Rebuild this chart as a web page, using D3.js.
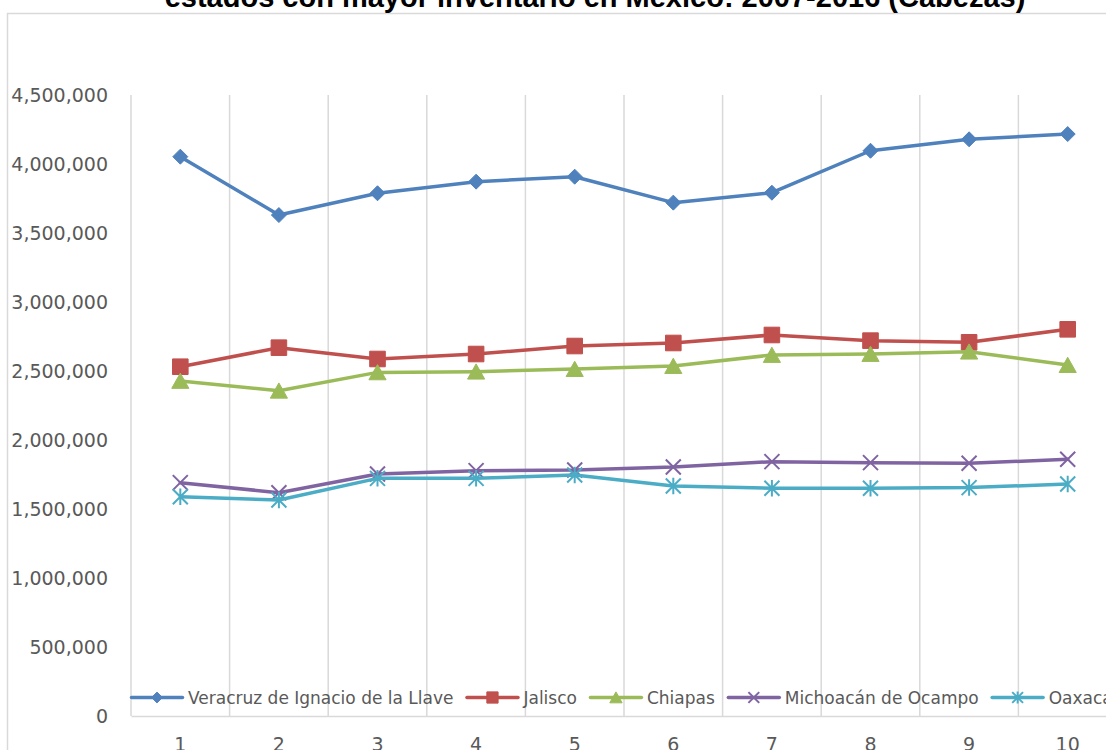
<!DOCTYPE html>
<html>
<head>
<meta charset="utf-8">
<script src="https://cdnjs.cloudflare.com/ajax/libs/d3/7.8.5/d3.min.js"></script>
<style>
  body { margin: 0; background: #fff; }
  svg { display: block; }
  .tick text { font-family: "DejaVu Sans", sans-serif; font-size: 19px; fill: #595959; }
  .legend text { font-family: "DejaVu Sans", sans-serif; font-size: 17px; fill: #595959; }
</style>
</head>
<body>
<svg id="chart" width="1106" height="750"></svg>
<script>
// categories (years 1..10) and series values
const categories = ["1", "2", "3", "4", "5", "6", "7", "8", "9", "10"];
const seriesNames = ["Veracruz de Ignacio de la Llave", "Jalisco", "Chiapas", "Michoacán de Ocampo", "Oaxaca"];
const veracruz = [4053000, 3630000, 3788000, 3872000, 3908000, 3720000, 3792000, 4096000, 4179000, 4217000];
const jalisco = [2531000, 2669000, 2587000, 2623000, 2681000, 2703000, 2761000, 2720000, 2708000, 2802000];
const chiapas = [2428000, 2357000, 2490000, 2495000, 2514000, 2536000, 2616000, 2623000, 2640000, 2543000];
const michoacan = [1691000, 1618000, 1754000, 1778000, 1783000, 1804000, 1843000, 1836000, 1831000, 1860000];
const oaxaca = [1589000, 1565000, 1722000, 1722000, 1746000, 1667000, 1650000, 1650000, 1655000, 1681000];
const yTicks = [0, 500000, 1000000, 1500000, 2000000, 2500000, 3000000, 3500000, 4000000, 4500000];
const titleText = "estados con mayor inventario en México: 2007-2016 (Cabezas)";

const colors = ["#4F81BD", "#C0504D", "#9BBB59", "#8064A2", "#4BACC6"];
const markers = ["diamond", "square", "triangle", "x", "star"];

const svg = d3.select("#chart");
const width = +svg.attr("width");
const height = +svg.attr("height");

const margin = { top: 95, left: 131, bottom: 34 };
const innerWidth = 986; // plot runs past the right edge of the picture
const innerHeight = height - margin.top - margin.bottom;

const x = d3.scaleBand().domain(categories).range([margin.left, margin.left + innerWidth]);
const y = d3.scaleLinear().domain([0, 4500000]).range([margin.top + innerHeight, margin.top]);

// chart frame (only top and left edges are in view)
svg.append("rect")
    .attr("x", 7.5).attr("y", 13.5)
    .attr("width", width + 50).attr("height", height + 50)
    .attr("fill", "none").attr("stroke", "#D9D9D9").attr("stroke-width", 1.5);

// title, mostly clipped at the top
svg.append("text")
    .attr("x", 595).attr("y", 7)
    .attr("text-anchor", "middle")
    .style("font-family", "'Liberation Sans', Arial, sans-serif")
    .style("font-weight", "bold")
    .style("font-size", "29px")
    .style("fill", "#000")
    .text(titleText);

// vertical gridlines on category boundaries
const gridX = categories.map(c => x(c)).concat([x.range()[1]]);
svg.append("g").selectAll("line")
    .data(gridX)
    .enter().append("line")
    .attr("x1", d => d).attr("x2", d => d)
    .attr("y1", y(4500000)).attr("y2", y(0))
    .attr("stroke", "#D9D9D9").attr("stroke-width", 1.5);

// axes
const xAxis = d3.axisBottom(x).tickSize(0).tickSizeOuter(0).tickPadding(22);
const gx = svg.append("g")
    .attr("transform", `translate(0,${y(0)})`)
    .call(xAxis);
gx.select(".domain").attr("stroke", "#D9D9D9").attr("stroke-width", 1.5);

const yAxis = d3.axisLeft(y).tickValues(yTicks).tickSize(0).tickPadding(23).tickFormat(d3.format(","));
const gy = svg.append("g")
    .attr("transform", `translate(${margin.left},0)`)
    .call(yAxis);
gy.select(".domain").remove();

function markerPath(type, s) {
    switch (type) {
        case "diamond":
            return `M0,${-s}L${s},0L0,${s}L${-s},0Z`;
        case "square":
            return `M${-s},${-s}H${s}V${s}H${-s}Z`;
        case "triangle":
            return `M0,${-s * 1.0}L${s * 1.1},${s * 0.95}L${-s * 1.1},${s * 0.95}Z`;
        case "x":
            return `M${-s},${-s}L${s},${s}M${s},${-s}L${-s},${s}`;
        case "star":
            return `M${-s},${-s}L${s},${s}M${s},${-s}L${-s},${s}M0,${-s * 1.1}V${s * 1.1}`;
    }
}
const markerSize = { diamond: 7.5, square: 7.8, triangle: 7.8, x: 7.5, star: 7.5 };

function drawMarker(sel, type, color, scale) {
    const p = sel.append("path").attr("d", markerPath(type, markerSize[type] * scale));
    if (type === "x" || type === "star") {
        p.attr("fill", "none").attr("stroke", color).attr("stroke-width", 2);
    } else {
        p.attr("fill", color).attr("stroke", color).attr("stroke-width", 1);
    }
}

const allSeries = [veracruz, jalisco, chiapas, michoacan, oaxaca];
const line = d3.line()
    .x((d, i) => x(categories[i]) + x.bandwidth() / 2)
    .y(d => y(d));

allSeries.forEach((vals, si) => {
    const g = svg.append("g").attr("class", "series");
    g.append("path")
        .datum(vals)
        .attr("d", line)
        .attr("fill", "none")
        .attr("stroke", colors[si])
        .attr("stroke-width", 3.5)
        .attr("stroke-linejoin", "round")
        .attr("stroke-linecap", "round");
    vals.forEach((v, i) => {
        const m = g.append("g")
            .attr("transform", `translate(${x(categories[i]) + x.bandwidth() / 2},${y(v)})`);
        drawMarker(m, markers[si], colors[si], 1);
    });
});

// legend inside the plot, along the bottom
const legend = svg.append("g").attr("class", "legend");
const legendY = 697.5;
let lx = margin.left - 1;
seriesNames.forEach((name, si) => {
    const item = legend.append("g").attr("transform", `translate(${lx},${legendY})`);
    item.append("line")
        .attr("x1", 1.5).attr("x2", 52.5)
        .attr("stroke", colors[si]).attr("stroke-width", 3.5)
        .attr("stroke-linecap", "round");
    const m = item.append("g").attr("transform", "translate(27,0)");
    drawMarker(m, markers[si], colors[si], 0.72);
    const t = item.append("text")
        .attr("x", 58).attr("y", 6)
        .text(name);
    lx += 58 + t.node().getComputedTextLength() + 12;
});
</script>
</body>
</html>
